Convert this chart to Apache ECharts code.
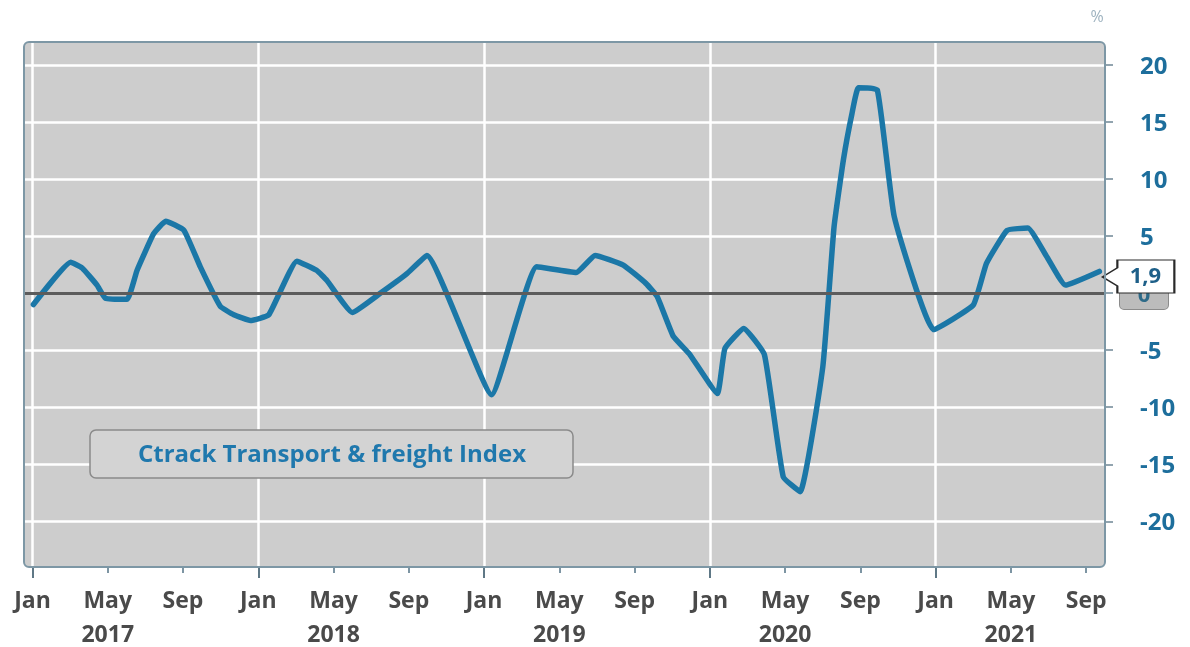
<!DOCTYPE html>
<html>
<head>
<meta charset="utf-8">
<script src="https://cdn.jsdelivr.net/npm/echarts@6/dist/echarts.min.js"></script>
<style>
html,body{margin:0;padding:0;background:#ffffff;}
#chart{width:1190px;height:647px;}
</style>
</head>
<body>
<div id="chart"></div>
<script>
// Month offsets since Jan 2017 (0 = Jan 2017) and index values (%)
const monthIndex = [0.05, 2.03, 2.64, 3.43, 3.88, 5.03, 5.56, 6.44, 7.08, 8.05, 8.92, 9.98, 10.7, 11.58, 12.56, 14.05, 15.1, 15.65, 17.0, 18.5, 19.9, 20.96, 24.4, 26.8, 28.9, 29.9, 31.4, 32.6, 33.2, 34.06, 34.9, 36.4, 36.8, 37.8, 38.9, 39.9, 40.8, 42.0, 42.6, 43.1, 43.55, 43.9, 44.9, 45.8, 47.9, 50.0, 50.7, 51.8, 52.9, 53.9, 54.9, 56.7];
const indexValues = [-1.0, 2.7, 2.2, 0.7, -0.45, -0.55, 2.0, 5.2, 6.3, 5.5, 2.3, -1.15, -1.9, -2.4, -1.9, 2.8, 2.0, 1.1, -1.7, 0.0, 1.7, 3.3, -8.9, 2.3, 1.8, 3.3, 2.45, 0.85, -0.3, -3.8, -5.3, -8.8, -4.85, -3.1, -5.4, -16.1, -17.4, -6.5, 5.8, 11.7, 15.7, 18.0, 17.8, 6.7, -3.2, -1.05, 2.6, 5.5, 5.7, 3.2, 0.7, 1.9];
const monthNames = ['Jan', 'Feb', 'Mar', 'Apr', 'May', 'Jun', 'Jul', 'Aug', 'Sep', 'Oct', 'Nov', 'Dec'];
const startYear = 2017;
const xLabelTicks = [0, 4, 8, 12, 16, 20, 24, 28, 32, 36, 40, 44, 48, 52, 56];
const janTicks = [0, 12, 24, 36, 48];
const minorTicks = [4, 8, 16, 20, 28, 32, 40, 44, 52, 56];
const yTicks = [-20, -15, -10, -5, 0, 5, 10, 15, 20];
const seriesName = 'Ctrack Transport & freight Index';
const unitLabel = '%';

const G = {left: 24, top: 42, width: 1081, height: 525};

const chart = echarts.init(document.getElementById('chart'), null, {renderer: 'canvas'});
const lineData = monthIndex.map((m, i) => [m, indexValues[i]]);
const last = lineData[lineData.length - 1];

chart.setOption({
  animation: false,
  backgroundColor: '#ffffff',
  graphic: [
    {type: 'rect', z: -10, silent: true,
     shape: {x: G.left, y: G.top, width: G.width, height: G.height, r: 5},
     style: {fill: '#cdcdcd', stroke: null}},
    {type: 'rect', z: 50, silent: true,
     shape: {x: G.left, y: G.top, width: G.width, height: G.height, r: 5},
     style: {fill: 'rgba(0,0,0,0)', stroke: '#7d97a5', lineWidth: 2}},
    {type: 'rect', z: 20, silent: true,
     shape: {x: 90, y: 430, width: 483, height: 48, r: 6},
     style: {fill: '#d3d3d3', stroke: '#8a8a8a', lineWidth: 1.5}},
    {type: 'text', z: 21, silent: true, x: 332, y: 455,
     style: {text: seriesName, fill: '#1f78ad', font: 'bold 24px "Open Sans"', align: 'center', verticalAlign: 'middle'}},
    {type: 'text', z: 21, silent: true, x: 1097, y: 17,
     style: {text: unitLabel, fill: '#9db2bf', font: '16px "Open Sans"', align: 'center', verticalAlign: 'middle'}}
  ],
  grid: {left: G.left, top: G.top, width: G.width, height: G.height, show: false,
         containLabel: false, outerBoundsMode: 'none'},
  xAxis: [{
    type: 'value', min: -0.45, max: 57.0,
    axisLine: {show: false, onZero: false},
    axisTick: {show: true, inside: false, customValues: janTicks, length: 11, lineStyle: {color: '#5f7886', width: 2}},
    splitLine: {show: true, lineStyle: {color: '#ffffff', width: 2.5}},
    axisLabel: {
      customValues: xLabelTicks, margin: 17, color: '#4a4a4a', fontWeight: 'bold',
      fontFamily: 'Open Sans', fontSize: 23, lineHeight: 34,
      formatter: v => {
        const m = Math.round(v);
        const name = monthNames[m % 12];
        return m % 12 === 4 ? name + '\n' + (startYear + Math.floor(m / 12)) : name;
      }
    }
  }, {
    type: 'value', min: -0.45, max: 57.0, gridIndex: 0, position: 'bottom',
    axisLine: {show: false, onZero: false},
    axisTick: {show: true, inside: false, customValues: minorTicks, length: 6, lineStyle: {color: '#7d95a3', width: 2}},
    splitLine: {show: false},
    axisLabel: {show: false}
  }],
  yAxis: {
    type: 'value', position: 'right', min: -24, max: 22,
    axisLine: {show: false, onZero: false},
    axisTick: {show: true, inside: false, customValues: yTicks, length: 8, lineStyle: {color: '#6f8795', width: 1.5}},
    splitLine: {show: true, lineStyle: {color: '#ffffff', width: 2.5}},
    axisLabel: {
      customValues: yTicks, margin: 15,
      formatter: v => v === 0 ? '{z|0}' : '{n|' + v + '}',
      rich: {
        n: {color: '#1d6e9c', fontWeight: 'bold', fontFamily: 'Open Sans', fontSize: 24, padding: [4, 0, 0, 20]},
        z: {color: '#2d6a88', fontWeight: 'bold', fontFamily: 'Open Sans', fontSize: 22, backgroundColor: '#bcbcbc',
            borderColor: '#8b8b8b', borderWidth: 1, borderRadius: 4, width: 40, align: 'center', padding: [8, 4, 2, 4]}
      }
    }
  },
  series: [{
    type: 'line', z: 1, data: [], silent: true,
    markLine: {
      silent: true, symbol: 'none', label: {show: false},
      lineStyle: {color: '#5c5c5c', width: 3, type: 'solid'},
      data: [{yAxis: 0}]
    }
  }, {
    name: seriesName, type: 'line', z: 3, data: lineData, showSymbol: false, smooth: 0.12,
    lineStyle: {color: '#1b77a7', width: 5.5, join: 'round', cap: 'round'},
    markPoint: {
      silent: true,
      symbol: 'path://M15,0L72,0L72,33L15,33L15,26L0,17L15,8Z',
      symbolSize: [72, 33], symbolKeepAspect: false, symbolOffset: [39, 5],
      itemStyle: {color: '#ffffff', borderColor: '#2a2a2a', borderWidth: 1.5},
      label: {show: true, position: 'inside', offset: [7, 0], color: '#1d5f88', fontWeight: 'bold',
              fontFamily: 'Open Sans', fontSize: 22, formatter: p => String(p.value).replace('.', ',')},
      data: [{coord: last, value: last[1]}]
    }
  }]
});
</script>
</body>
</html>
